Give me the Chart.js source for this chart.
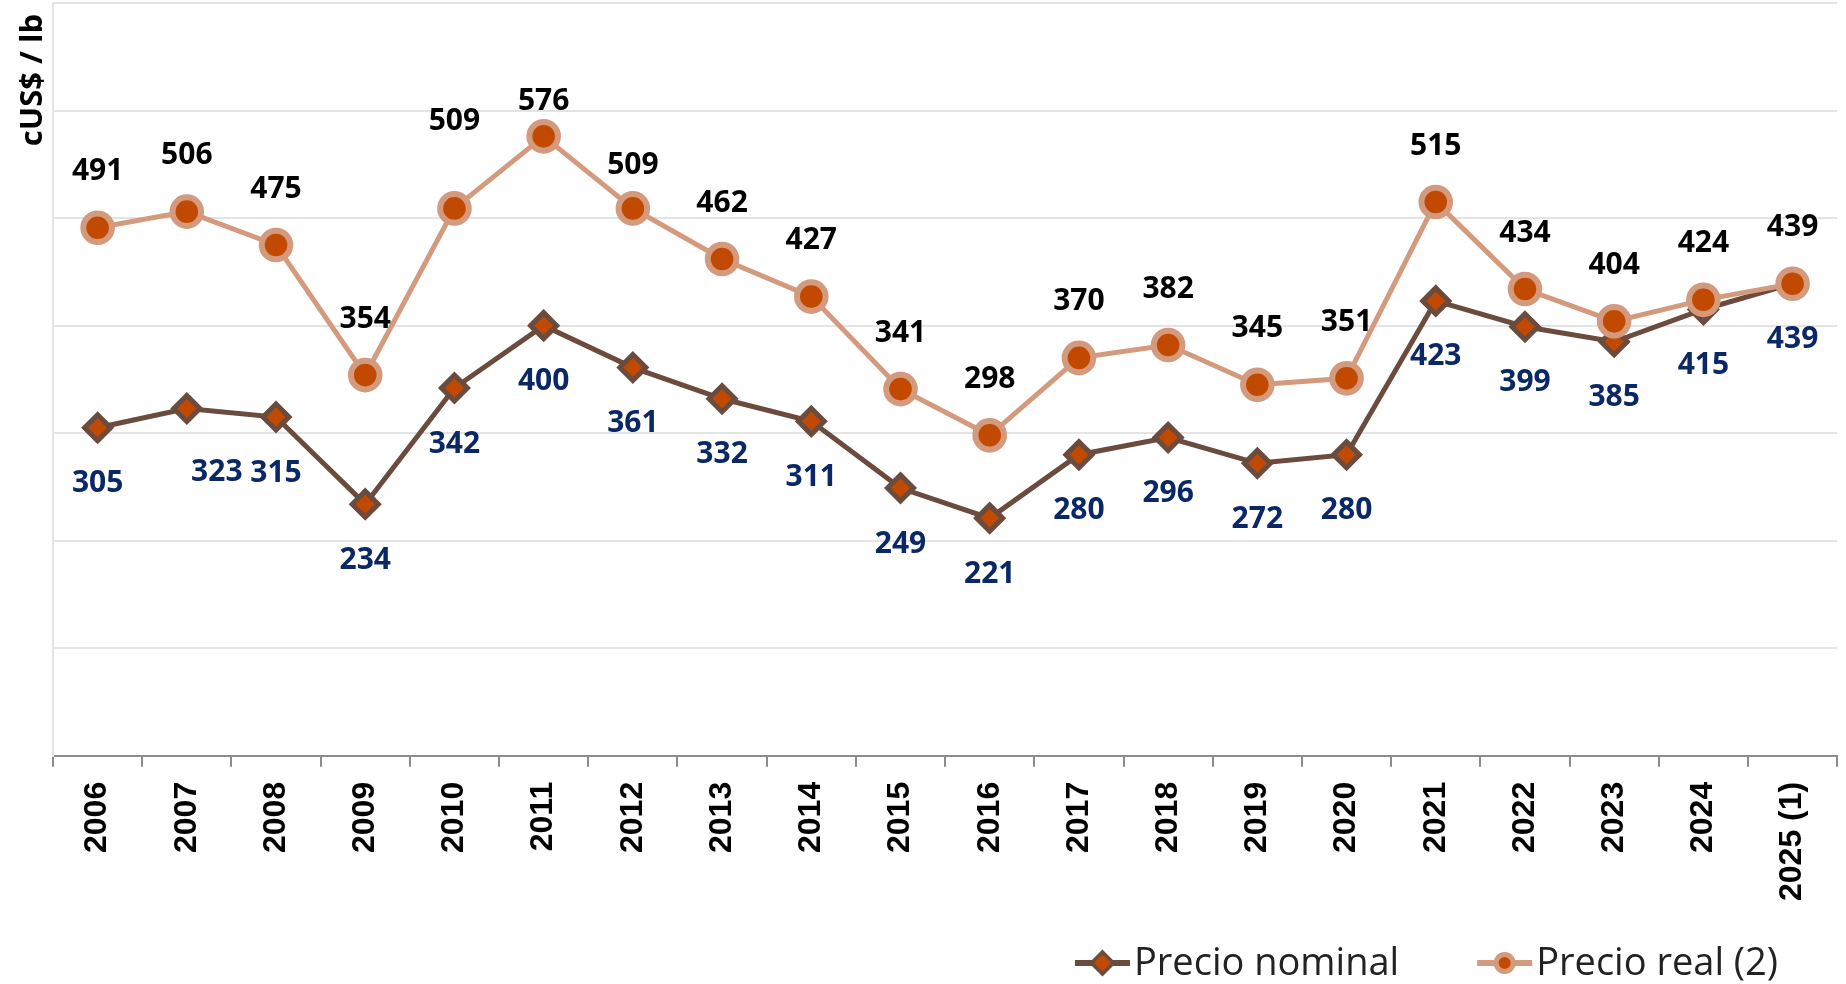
<!DOCTYPE html>
<html>
<head>
<meta charset="utf-8">
<title>Precio del cobre</title>
<script src="https://cdn.jsdelivr.net/npm/chart.js@4.4.1/dist/chart.umd.min.js"></script>
<style>
  html, body { margin: 0; padding: 0; background: #fff; }
  #wrap { width: 1846px; height: 984px; }
</style>
</head>
<body>
<div id="wrap"><canvas id="precioChart" width="1846" height="984"></canvas></div>
<script>
// datos
const years = ['2006', '2007', '2008', '2009', '2010', '2011', '2012', '2013', '2014', '2015',
               '2016', '2017', '2018', '2019', '2020', '2021', '2022', '2023', '2024', '2025 (1)'];
const precioNominal = [305, 323, 315, 234, 342, 400, 361, 332, 311, 249,
                       221, 280, 296, 272, 280, 423, 399, 385, 415, 439];
const precioReal = [491, 506, 475, 354, 509, 576, 509, 462, 427, 341,
                    298, 370, 382, 345, 351, 515, 434, 404, 424, 439];
const seriesNames = ['Precio nominal', 'Precio real (2)'];
const yTitle = 'cUS$ / lb';
const yMin = 0, yMax = 700, yStep = 100;

// colores
const nominalLine = '#6b4b3d';
const realLine = '#d39a7e';
const markerFill = '#c24a00';

// estilo de las etiquetas de valores
const labelStyle = {
    font: 'bold 30px "Open Sans"',
    colors: ['#0b2866', '#000000'],
    shift: [56, -56],
    // etiquetas movidas a mano en el original: indice -> [dx, dy]
    nudges: [
        { 1: [30, 8] },
        { 4: [0, -31], 5: [0, 21], 6: [0, 13] }
    ]
};

// estilo de la leyenda
const legendStyle = {
    font: '38px "Open Sans"',
    color: '#222222',
    iconWidth: 55,
    textGap: 4,
    itemGap: 78,
    lineWidth: 6,
    markerRadius: [11, 8.5],
    markerBorder: [3.5, 5],
    rightInset: 68,
    bottomInset: 21
};

// titulo del eje Y, arriba a la izquierda
const titleStyle = { font: 'bold 31px "Open Sans"', x: 33, offset: 11 };

const axisTitle = {
    id: 'axisTitle',
    afterDraw(chart) {
        const ctx = chart.ctx;
        ctx.save();
        ctx.translate(titleStyle.x, chart.chartArea.top + titleStyle.offset);
        ctx.rotate(-Math.PI / 2);
        ctx.textAlign = 'right';
        ctx.textBaseline = 'middle';
        ctx.font = titleStyle.font;
        ctx.fillStyle = '#000';
        ctx.fillText(yTitle, 0, 0);
        ctx.restore();
    }
};

// etiquetas de valores (encima / debajo de cada punto)
const pointLabels = {
    id: 'pointLabels',
    afterDatasetsDraw(chart) {
        const s = labelStyle;
        const ctx = chart.ctx;
        ctx.save();
        ctx.textAlign = 'center';
        ctx.textBaseline = 'middle';
        ctx.font = s.font;
        chart.data.datasets.forEach((ds, i) => {
            const meta = chart.getDatasetMeta(i);
            const nudge = s.nudges[i] || {};
            ctx.fillStyle = s.colors[i];
            meta.data.forEach((pt, j) => {
                const d = nudge[j] || [0, 0];
                ctx.fillText(String(ds.data[j]), pt.x + d[0], pt.y + s.shift[i] + d[1]);
            });
        });
        ctx.restore();
    }
};

// leyenda abajo a la derecha: linea + marcador + texto
const lineLegend = {
    id: 'lineLegend',
    afterDraw(chart) {
        const s = legendStyle;
        const ctx = chart.ctx;
        const datasets = chart.data.datasets;
        ctx.save();
        ctx.font = s.font;
        ctx.textBaseline = 'middle';
        ctx.textAlign = 'left';
        const widths = datasets.map(ds => s.iconWidth + s.textGap + ctx.measureText(ds.label).width);
        const total = widths.reduce((a, b) => a + b, 0) + s.itemGap * (datasets.length - 1);
        let x = chart.width - s.rightInset - total;
        const y = chart.height - s.bottomInset;
        datasets.forEach((ds, i) => {
            // linea
            ctx.strokeStyle = ds.borderColor;
            ctx.lineWidth = s.lineWidth;
            ctx.beginPath();
            ctx.moveTo(x, y);
            ctx.lineTo(x + s.iconWidth, y);
            ctx.stroke();
            // marcador
            ctx.fillStyle = ds.pointBackgroundColor;
            ctx.strokeStyle = ds.pointBorderColor;
            ctx.lineWidth = s.markerBorder[i];
            Chart.helpers.drawPoint(ctx, {
                pointStyle: ds.pointStyle,
                radius: s.markerRadius[i],
                borderWidth: s.markerBorder[i],
                rotation: 0
            }, x + s.iconWidth / 2, y);
            // texto
            ctx.fillStyle = s.color;
            ctx.fillText(ds.label, x + s.iconWidth + s.textGap, y + 1);
            x += widths[i] + s.itemGap;
        });
        ctx.restore();
    }
};

const ctx = document.getElementById('precioChart');

new Chart(ctx, {
    type: 'line',
    data: {
        labels: years,
        datasets: [{
            label: seriesNames[0],
            data: precioNominal,
            order: 1,
            borderColor: nominalLine,
            borderWidth: 5,
            pointStyle: 'rectRot',
            pointRadius: 13,
            pointBorderWidth: 5,
            pointBackgroundColor: markerFill,
            pointBorderColor: nominalLine,
            tension: 0
        }, {
            label: seriesNames[1],
            data: precioReal,
            order: 0,
            borderColor: realLine,
            borderWidth: 5,
            pointStyle: 'circle',
            pointRadius: 14.3,
            pointBorderWidth: 6,
            pointBackgroundColor: markerFill,
            pointBorderColor: realLine,
            tension: 0
        }]
    },
    options: {
        responsive: false,
        animation: false,
        events: [],
        layout: {
            autoPadding: false,
            padding: { top: 3, right: 0, bottom: 68, left: 53 }
        },
        scales: {
            x: {
                offset: true,
                grid: {
                    display: true,
                    drawOnChartArea: false,
                    offset: true,
                    tickLength: 11,
                    color: '#8c8c8c',
                    lineWidth: 2
                },
                border: { color: '#8c8c8c', width: 2 },
                ticks: {
                    autoSkip: false,
                    minRotation: 90,
                    maxRotation: 90,
                    padding: 15,
                    color: '#000',
                    font: { family: 'Liberation Sans', weight: 'bold', size: 32 }
                }
            },
            y: {
                min: yMin,
                max: yMax,
                ticks: { display: false, stepSize: yStep },
                grid: { color: '#e4e4e4', lineWidth: 2, drawTicks: false },
                border: { display: true, color: '#e4e4e4', width: 2 }
            }
        },
        plugins: {
            legend: { display: false },
            tooltip: { enabled: false }
        }
    },
    plugins: [pointLabels, lineLegend, axisTitle]
});
</script>
</body>
</html>
